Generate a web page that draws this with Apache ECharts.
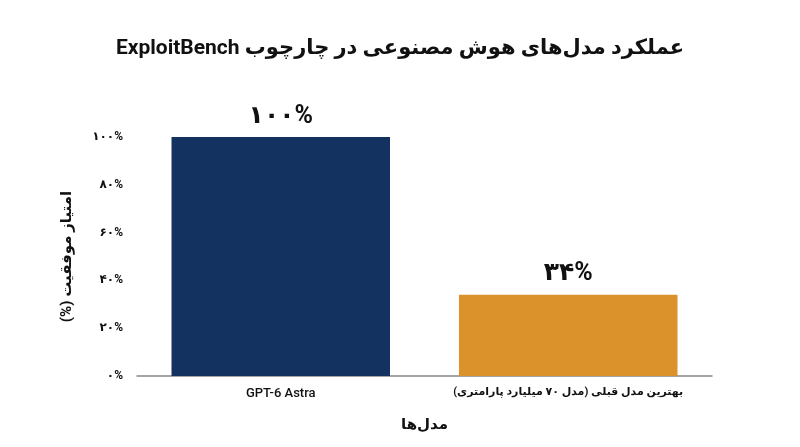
<!DOCTYPE html>
<html><head><meta charset="utf-8">
<script src="https://cdn.jsdelivr.net/npm/echarts@6/dist/echarts.min.js"></script>
<style>html,body{margin:0;padding:0;background:#fff}#c{width:800px;height:447px}</style>
</head><body><div id="c"></div>
<script>
var categories = ['GPT-6 Astra', 'بهترین مدل قبلی (مدل ۷۰ میلیارد پارامتری)'];
var values = [100, 34];
var valueLabels = ['۱۰۰%', '۳۴%'];
var tickLabels = {0:'۰%',20:'۲۰%',40:'۴۰%',60:'۶۰%',80:'۸۰%',100:'۱۰۰%'};
var colors = ['#14325f', '#dc922b'];
var titleText = 'عملکرد مدل‌های هوش مصنوعی در چارچوب ExploitBench';
var xName = 'مدل‌ها';
var yName = 'امتیاز موفقیت (%)';

function rtl(s) { return '\u202B' + s + '\u202C'; }

var chart = echarts.init(document.getElementById('c'));
var font = 'Roboto, "Noto Sans", "DejaVu Sans", sans-serif';
chart.setOption({
  animation: false,
  title: {
    text: rtl(titleText),
    left: 'center', top: 33,
    textStyle: {fontFamily: font, fontSize: 21, fontWeight: 'bold', color: '#111'}
  },
  grid: {left: 137, right: 88, top: 137, bottom: 71},
  xAxis: {
    type: 'category',
    data: categories.map(function (c, i) {
      return i === 0 ? {value: c} :
        {value: c, textStyle: {fontWeight: 'bold', fontSize: 11}};
    }),
    name: rtl(xName), nameLocation: 'middle', nameGap: 42,
    nameTextStyle: {fontFamily: font, fontSize: 15, fontWeight: 'bold', color: '#111'},
    axisLine: {lineStyle: {color: '#888', width: 1.5}},
    axisTick: {show: false},
    axisLabel: {interval: 0, hideOverlap: false, fontFamily: font, fontSize: 13, fontWeight: 500,
      color: '#111', margin: 11,
      formatter: function (v) { return rtl(v); }}
  },
  yAxis: {
    type: 'value', min: 0, max: 100, interval: 20,
    name: rtl(yName), nameLocation: 'middle', nameGap: 62, nameRotate: 90,
    nameTextStyle: {fontFamily: font, fontSize: 15, fontWeight: 'bold', color: '#111'},
    axisLine: {show: false}, axisTick: {show: false}, splitLine: {show: false},
    axisLabel: {fontFamily: font, fontSize: 12, fontWeight: 'bold', color: '#111', margin: 14,
      formatter: function (v) { return tickLabels[v]; }}
  },
  series: [{
    type: 'bar', barWidth: '76%',
    data: values.map(function (v, i) {
      return {value: v, itemStyle: {color: colors[i]},
        label: {formatter: valueLabels[i]}};
    }),
    label: {show: true, position: 'top', distance: 8,
      fontFamily: font, fontSize: 25, fontWeight: 'bold', color: '#111'}
  }]
});
</script></body></html>
